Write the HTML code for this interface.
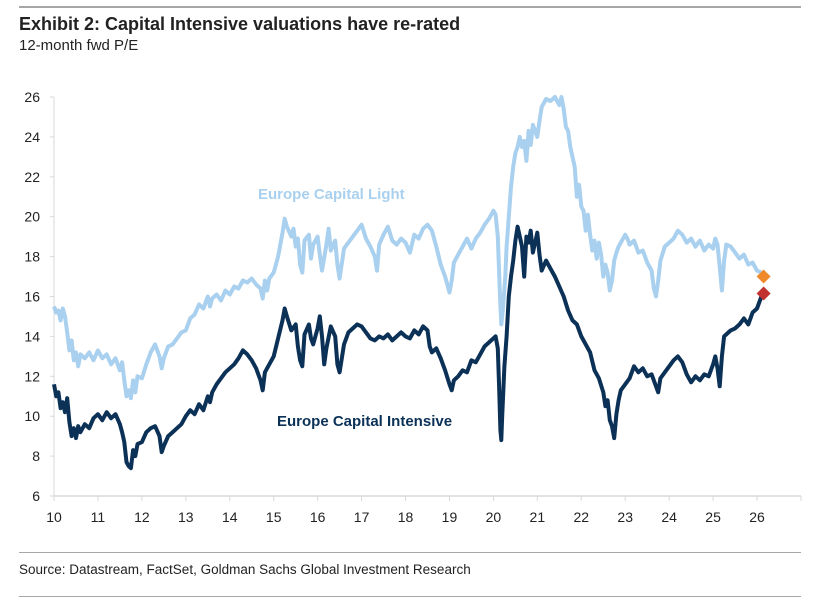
<!DOCTYPE html>
<html><head><meta charset="utf-8"><style>
body{margin:0;background:#fff;width:821px;height:603px;overflow:hidden;font-family:"Liberation Sans",sans-serif}
.rule{position:absolute;left:19px;width:782px;background:#a6a6a6}
</style></head><body>
<div class="rule" style="top:6px;height:2px"></div>
<div style="position:absolute;left:19px;top:14px;font-size:18px;font-weight:bold;color:#222;letter-spacing:0">Exhibit 2: Capital Intensive valuations have re-rated</div>
<div style="position:absolute;left:19px;top:37px;font-size:15px;color:#222">12-month fwd P/E</div>
<svg id="chart" width="821" height="603" style="position:absolute;left:0;top:0"></svg>
<div class="rule" style="top:552px;height:1px"></div>
<div style="position:absolute;left:19px;top:562px;font-size:13.5px;color:#222">Source: Datastream, FactSet, Goldman Sachs Global Investment Research</div>
<div class="rule" style="top:596px;height:1px"></div>
<script>
const yTicks=[6,8,10,12,14,16,18,20,22,24,26];
const xTickLabels=["10","11","12","13","14","15","16","17","18","19","20","21","22","23","24","25","26"];
const lightYears=[2010,2010.05,2010.1,2010.15,2010.2,2010.25,2010.3,2010.35,2010.4,2010.45,2010.5,2010.55,2010.6,2010.7,2010.8,2010.9,2011,2011.1,2011.2,2011.3,2011.4,2011.5,2011.55,2011.6,2011.65,2011.7,2011.75,2011.8,2011.85,2011.9,2012,2012.1,2012.2,2012.3,2012.4,2012.45,2012.5,2012.6,2012.7,2012.8,2012.9,2013,2013.1,2013.2,2013.3,2013.4,2013.5,2013.55,2013.6,2013.7,2013.8,2013.9,2014,2014.1,2014.2,2014.3,2014.4,2014.5,2014.6,2014.7,2014.75,2014.8,2014.85,2014.9,2015,2015.1,2015.2,2015.25,2015.3,2015.4,2015.45,2015.5,2015.55,2015.6,2015.65,2015.7,2015.8,2015.85,2015.9,2016,2016.05,2016.1,2016.2,2016.25,2016.3,2016.4,2016.45,2016.5,2016.6,2016.7,2016.8,2016.9,2017,2017.1,2017.2,2017.3,2017.35,2017.4,2017.5,2017.6,2017.7,2017.8,2017.9,2018,2018.1,2018.2,2018.3,2018.4,2018.5,2018.6,2018.7,2018.8,2018.9,2019,2019.05,2019.1,2019.2,2019.3,2019.4,2019.5,2019.6,2019.7,2019.8,2019.9,2020,2020.05,2020.1,2020.15,2020.18,2020.22,2020.27,2020.3,2020.35,2020.4,2020.45,2020.5,2020.55,2020.6,2020.65,2020.7,2020.75,2020.8,2020.85,2020.9,2021,2021.05,2021.1,2021.2,2021.3,2021.4,2021.5,2021.55,2021.6,2021.65,2021.7,2021.75,2021.8,2021.85,2021.9,2021.95,2022,2022.05,2022.1,2022.15,2022.2,2022.25,2022.3,2022.35,2022.4,2022.45,2022.5,2022.55,2022.6,2022.65,2022.7,2022.75,2022.8,2022.85,2022.9,2023,2023.05,2023.1,2023.2,2023.3,2023.4,2023.5,2023.6,2023.65,2023.7,2023.75,2023.8,2023.9,2024,2024.1,2024.2,2024.3,2024.4,2024.5,2024.6,2024.7,2024.8,2024.9,2025,2025.05,2025.1,2025.15,2025.2,2025.25,2025.3,2025.4,2025.5,2025.6,2025.7,2025.8,2025.9,2026,2026.1];
const lightValues=[15.5,15.2,15.3,14.8,15.4,15.0,14.2,13.3,13.8,12.8,13.2,12.5,13.1,12.9,13.2,12.8,13.3,12.9,13.1,12.6,12.9,12.3,12.7,11.8,11.0,11.3,10.9,11.8,11.2,12.0,11.9,12.6,13.2,13.6,13.0,12.4,12.9,13.5,13.6,13.9,14.2,14.3,14.9,15.1,15.6,15.4,16.0,15.5,15.9,16.1,15.8,16.3,16.1,16.5,16.4,16.8,16.7,16.9,16.6,16.4,15.9,16.8,16.3,16.9,17.2,18.0,19.2,19.9,19.5,19.0,19.4,18.5,18.9,17.6,17.2,18.8,19.1,17.9,18.6,19.0,18.1,17.3,18.6,19.4,18.3,18.8,17.6,16.9,18.4,18.7,19.0,19.3,19.6,18.9,18.5,18.0,17.3,18.6,19.1,19.5,18.8,18.6,18.9,18.7,18.2,19.1,18.9,19.4,19.6,19.3,18.5,17.6,17.0,16.2,16.8,17.7,18.1,18.5,18.9,18.4,18.9,19.2,19.6,19.9,20.3,20.1,19.0,16.0,14.6,15.5,17.0,18.5,20.0,21.5,22.5,23.2,23.5,24.0,23.5,23.8,22.8,24.3,23.6,24.6,24.0,24.8,25.5,25.9,25.8,26.0,25.6,26.0,25.4,24.5,24.3,23.5,23.0,22.5,21.0,21.6,20.5,20.3,19.3,20.1,19.1,18.3,18.8,17.9,18.7,18.1,17.0,17.6,17.2,16.3,16.8,17.8,18.2,18.5,18.7,19.1,18.9,18.6,18.8,18.2,18.3,17.7,17.3,16.4,16.0,16.8,17.8,18.5,18.7,18.9,19.3,19.1,18.7,18.9,18.5,18.8,18.3,18.6,18.4,18.9,18.6,17.5,16.3,17.8,18.6,18.5,18.2,17.9,18.1,17.6,17.7,17.3,17.2];
const darkYears=[2010,2010.05,2010.1,2010.15,2010.2,2010.25,2010.3,2010.35,2010.4,2010.45,2010.5,2010.55,2010.6,2010.7,2010.8,2010.9,2011,2011.1,2011.2,2011.3,2011.4,2011.5,2011.55,2011.6,2011.65,2011.7,2011.75,2011.8,2011.85,2011.9,2012,2012.1,2012.2,2012.3,2012.4,2012.45,2012.5,2012.6,2012.7,2012.8,2012.9,2013,2013.1,2013.2,2013.3,2013.4,2013.5,2013.55,2013.6,2013.7,2013.8,2013.9,2014,2014.1,2014.2,2014.3,2014.4,2014.5,2014.6,2014.7,2014.75,2014.8,2014.9,2015,2015.1,2015.2,2015.25,2015.3,2015.4,2015.5,2015.55,2015.6,2015.65,2015.7,2015.8,2015.85,2015.9,2016,2016.05,2016.1,2016.15,2016.2,2016.3,2016.4,2016.45,2016.5,2016.6,2016.7,2016.8,2016.9,2017,2017.1,2017.2,2017.3,2017.4,2017.5,2017.6,2017.7,2017.8,2017.9,2018,2018.1,2018.2,2018.3,2018.4,2018.5,2018.55,2018.6,2018.7,2018.8,2018.9,2019,2019.05,2019.1,2019.2,2019.3,2019.4,2019.5,2019.6,2019.7,2019.8,2019.9,2020,2020.05,2020.1,2020.13,2020.16,2020.18,2020.2,2020.25,2020.3,2020.35,2020.4,2020.45,2020.5,2020.55,2020.6,2020.65,2020.7,2020.75,2020.8,2020.85,2020.9,2021,2021.05,2021.1,2021.2,2021.3,2021.4,2021.5,2021.6,2021.7,2021.8,2021.9,2022,2022.1,2022.2,2022.3,2022.4,2022.5,2022.55,2022.6,2022.65,2022.7,2022.75,2022.8,2022.85,2022.9,2023,2023.1,2023.2,2023.3,2023.4,2023.5,2023.6,2023.7,2023.75,2023.8,2023.9,2024,2024.1,2024.2,2024.3,2024.4,2024.5,2024.6,2024.7,2024.8,2024.9,2025,2025.05,2025.1,2025.15,2025.2,2025.25,2025.3,2025.4,2025.5,2025.6,2025.7,2025.8,2025.9,2026,2026.1];
const darkValues=[11.6,11.0,11.2,10.4,10.7,10.2,10.9,9.7,9.0,9.4,8.9,9.5,9.2,9.6,9.4,9.9,10.1,9.8,10.2,9.9,10.1,9.6,9.2,8.7,7.7,7.5,7.4,8.3,8.0,8.6,8.7,9.2,9.4,9.5,9.0,8.2,8.5,9.0,9.2,9.4,9.6,10.0,10.3,10.1,10.6,10.3,11.0,10.7,11.2,11.6,11.9,12.2,12.4,12.6,12.9,13.3,13.1,12.8,12.4,11.8,11.3,12.2,12.6,13.0,13.9,14.8,15.4,15.0,14.3,14.6,13.5,12.8,12.5,14.1,14.6,13.9,13.6,14.4,15.0,14.0,12.6,13.4,14.5,14.0,12.6,12.2,13.6,14.2,14.4,14.6,14.5,14.2,13.9,13.8,14.0,13.9,14.1,13.8,14.0,14.2,14.0,13.9,14.3,14.1,14.5,14.3,13.5,13.2,13.4,12.9,12.3,11.6,11.3,11.8,12.0,12.3,12.2,12.8,12.7,13.1,13.5,13.7,13.9,14.0,13.4,11.5,9.3,8.8,10.0,12.5,14.0,16.0,17.0,17.8,18.8,19.5,19.0,18.5,17.0,19.0,18.7,19.3,18.2,19.2,18.1,17.3,17.8,17.4,17.0,16.5,16.0,15.3,14.8,14.6,14.0,13.6,13.2,12.3,11.9,11.2,10.5,10.8,9.8,9.5,8.9,10.1,10.8,11.3,11.6,11.9,12.5,12.2,12.4,12.0,12.1,11.5,11.2,11.9,12.2,12.5,12.8,13.0,12.7,12.1,11.7,12.0,11.8,12.1,12.0,12.6,13.0,12.4,11.5,13.0,14.0,14.1,14.3,14.4,14.6,14.9,14.6,15.2,15.4,16.0];
const latestLight=[2026.15,17.0];
const latestDark=[2026.15,16.15];

const NS="http://www.w3.org/2000/svg";
const svg=document.getElementById('chart');
const X0=54,X1=801,Y0=496,Y1=97;
function xs(yr){return X0+(yr-2010)*43.94;}
function ys(v){return Y0-(v-6)*(Y0-Y1)/20;}
function mk(tag,attrs){const e=document.createElementNS(NS,tag);for(const k in attrs)e.setAttribute(k,attrs[k]);svg.appendChild(e);return e;}
let ax=mk('line',{x1:X0,y1:Y1,x2:X0,y2:Y0,stroke:'#d9d9d9','stroke-width':1});


ax=mk('line',{x1:X0,y1:Y0,x2:X1,y2:Y0,stroke:'#d9d9d9','stroke-width':1.5});


yTicks.forEach(v=>{
  const t=mk('line',{x1:X0-4,y1:ys(v),x2:X0,y2:ys(v),stroke:'#d9d9d9'});
  
  
  const l=mk('text',{x:40,y:ys(v)+5,'text-anchor':'end','font-size':14,fill:'#222','font-family':'Liberation Sans, sans-serif'});
  l.textContent=v;
  
  
});
xTickLabels.forEach((s,i)=>{
  const x=xs(2010+i);
  const t=mk('line',{x1:x,y1:Y0,x2:x,y2:Y0+5,stroke:'#d9d9d9'});
  
  
  const l=mk('text',{x:x,y:522,'text-anchor':'middle','font-size':14,fill:'#222','font-family':'Liberation Sans, sans-serif'});
  l.textContent=s;
  
  
});
const lt=mk('line',{x1:X1,y1:Y0,x2:X1,y2:Y0+5,stroke:'#d9d9d9'});


function path(yrs,vals){return yrs.map((y,i)=>(i?'L':'M')+xs(y).toFixed(1)+','+ys(vals[i]).toFixed(1)).join('');}
const pl=mk('path',{d:path(lightYears,lightValues),fill:'none',stroke:'#a9d0ee','stroke-width':4,'stroke-linejoin':'round'});


const pd=mk('path',{d:path(darkYears,darkValues),fill:'none',stroke:'#0c3157','stroke-width':4,'stroke-linejoin':'round'});


function diamond(p,c,name){const x=xs(p[0]),y=ys(p[1]),r=7;
  const d=mk('polygon',{points:`${x},${y-r} ${x+r},${y} ${x},${y+r} ${x-r},${y}`,fill:c});
  
  }
diamond(latestLight,'#f0892a','latest-light-marker');
diamond(latestDark,'#c1312f','latest-intensive-marker');
const t1=mk('text',{x:258,y:199,'font-size':15,'font-weight':'bold',fill:'#a9d0ee','font-family':'Liberation Sans, sans-serif'});
t1.textContent='Europe Capital Light';


const t2=mk('text',{x:277,y:426,'font-size':15,'font-weight':'bold',fill:'#0c3157','font-family':'Liberation Sans, sans-serif'});
t2.textContent='Europe Capital Intensive';


</script>
</body></html>
